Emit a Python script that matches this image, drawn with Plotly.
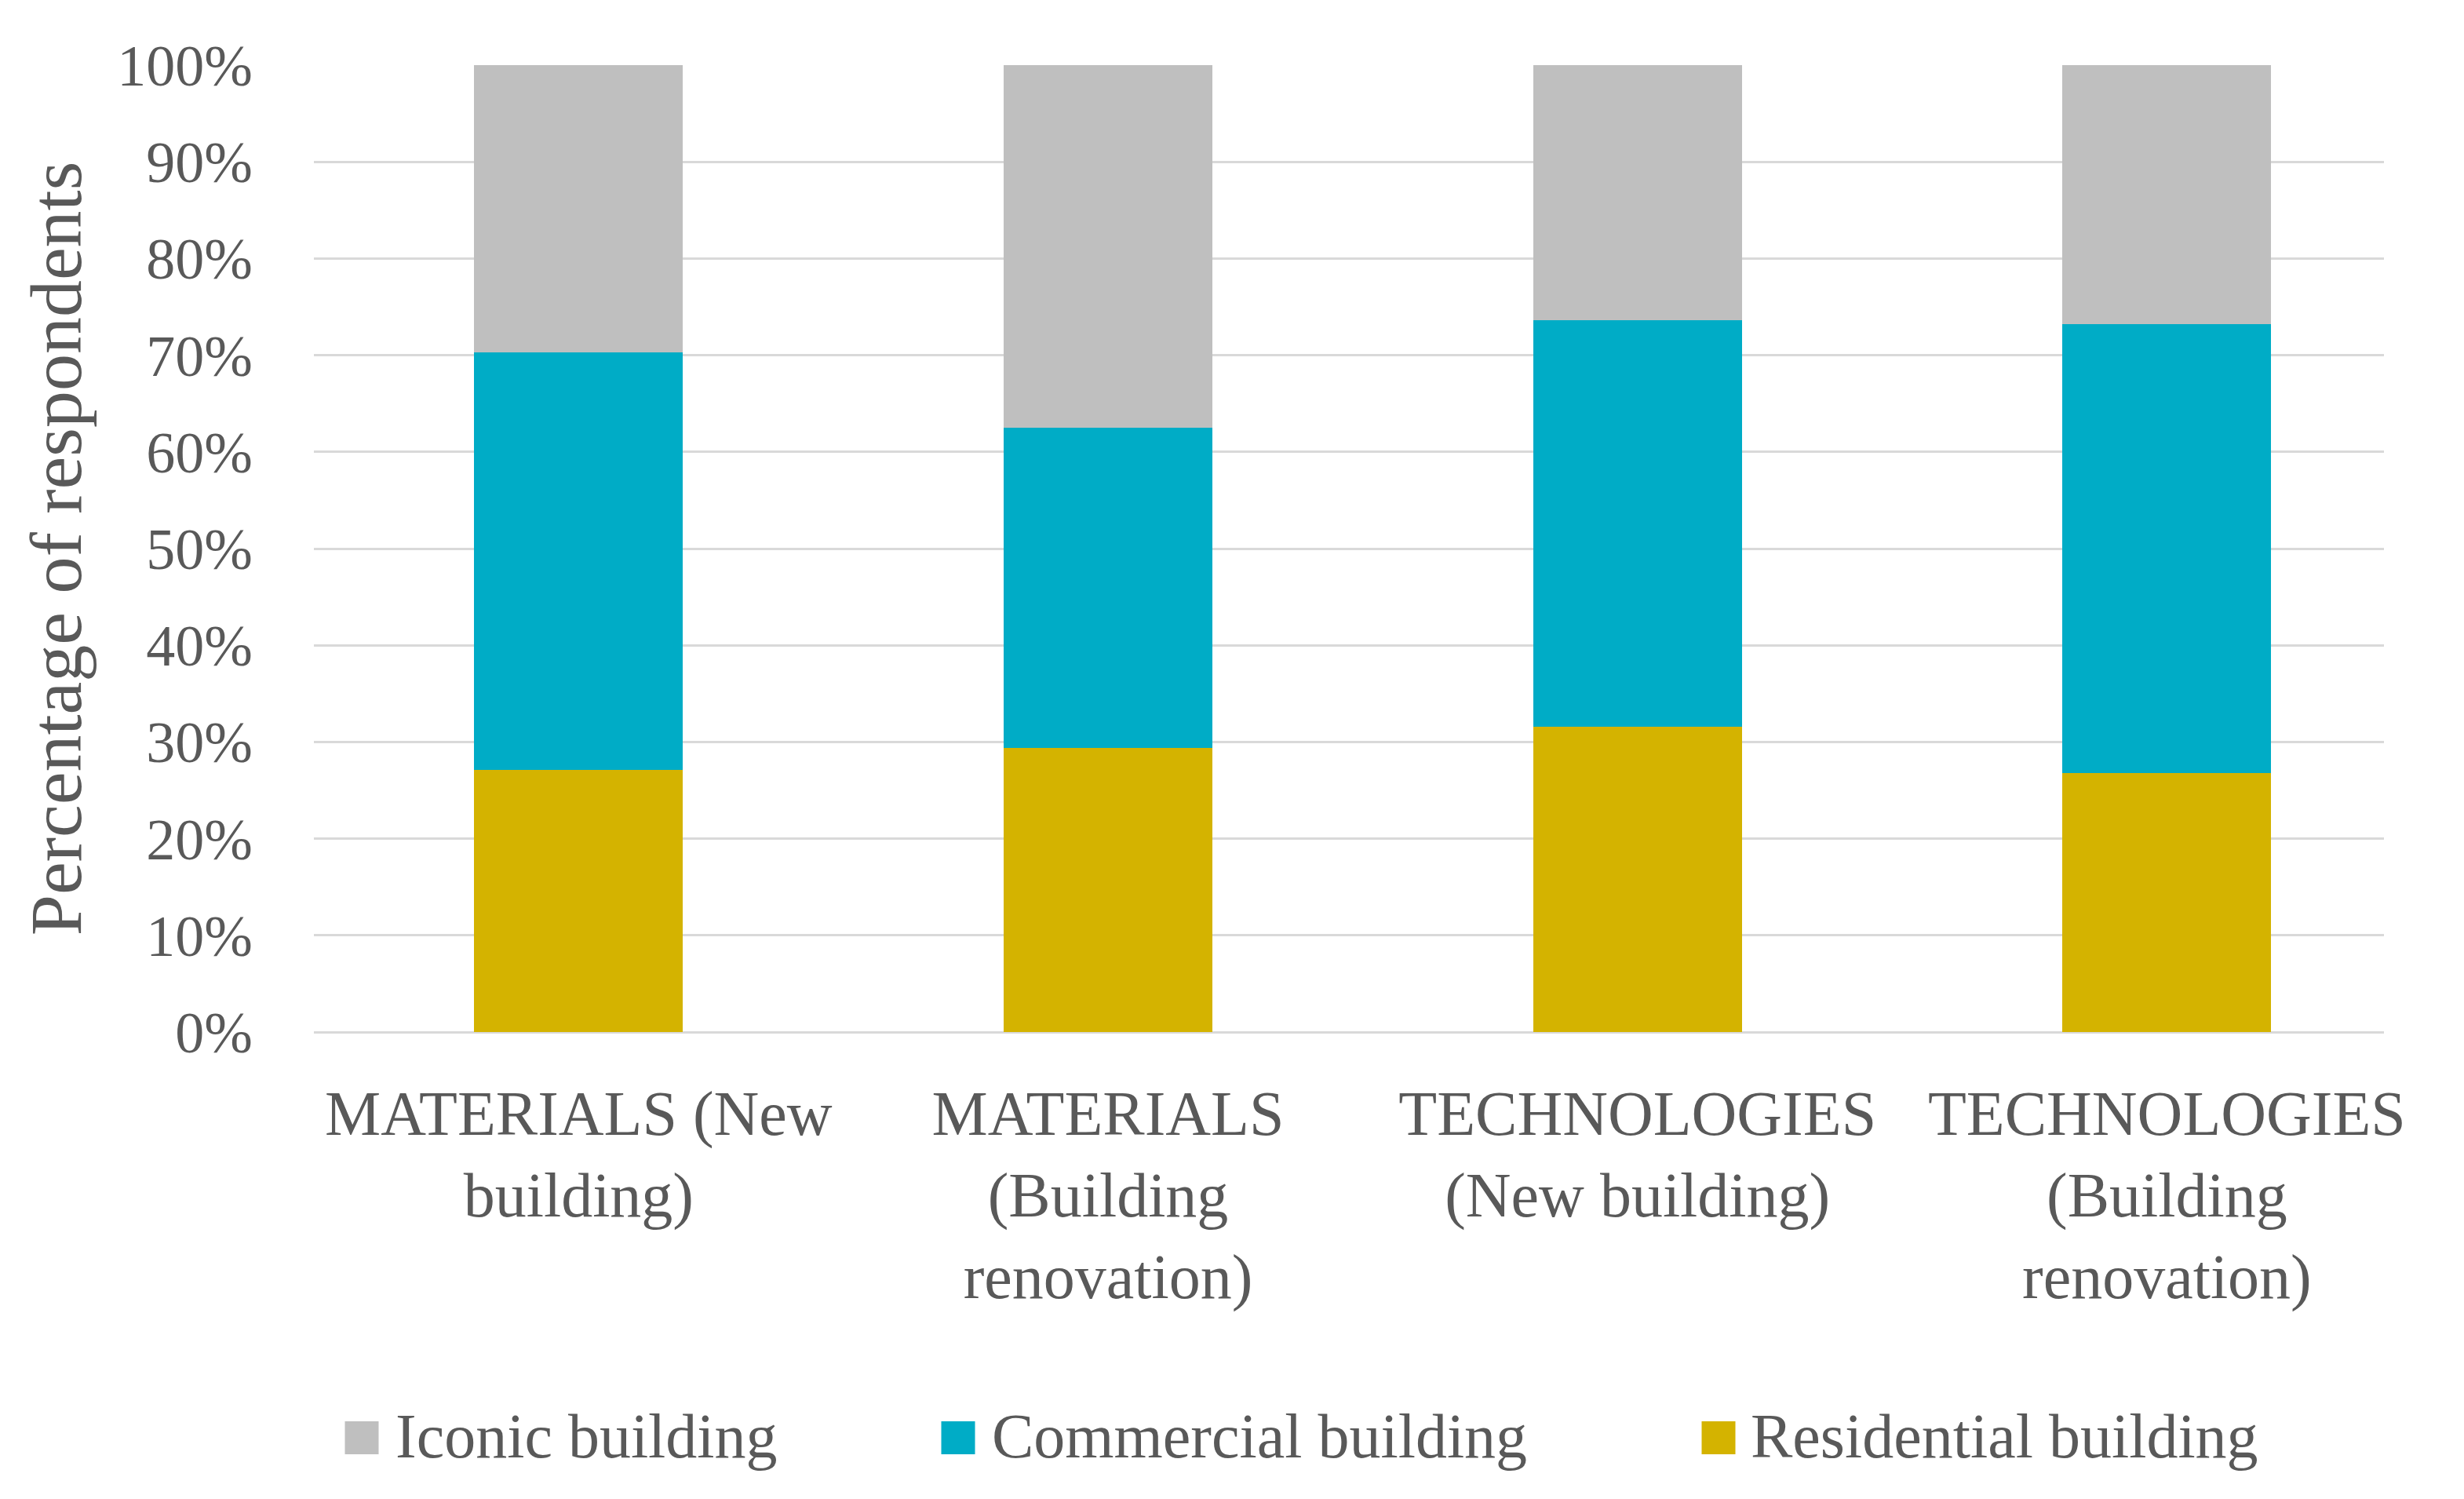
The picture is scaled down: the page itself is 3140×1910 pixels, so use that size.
import plotly.graph_objects as go

categories = ["MATERIALS (New<br>building)", "MATERIALS<br>(Building<br>renovation)",
              "TECHNOLOGIES<br>(New building)", "TECHNOLOGIES<br>(Building<br>renovation)"]
residential = [27.1, 29.4, 31.6, 26.8]
commercial = [43.2, 33.1, 42.0, 46.4]
iconic = [29.7, 37.5, 26.4, 26.8]
y_ticks = [0, 10, 20, 30, 40, 50, 60, 70, 80, 90, 100]
y_tick_labels = [f"{v}%" for v in y_ticks]

colors = {"Iconic building": "#BFBFBF", "Commercial building": "#00ACC6",
          "Residential building": "#D4B300"}

FONT = "Liberation Serif"
TXT = "#595959"

OFF = 8  # page body margin offset of the figure on screen
W, H = 3140, 1910
ml, mr, mt, mb = 400 - OFF, 102 + OFF, 83 - OFF, 595 + OFF
pw = W - ml - mr
ph = H - mt - mb

def px_x(x):
    return (x - OFF - ml) / pw

def px_y(y):
    return (H - mb - (y - OFF)) / ph

fig = go.Figure()
fig.add_trace(go.Bar(x=categories, y=residential, name="Residential building",
                     marker=dict(color=colors["Residential building"], line_width=0),
                     legend="legend3"))
fig.add_trace(go.Bar(x=categories, y=commercial, name="Commercial building",
                     marker=dict(color=colors["Commercial building"], line_width=0),
                     legend="legend2"))
fig.add_trace(go.Bar(x=categories, y=iconic, name="Iconic building",
                     marker=dict(color=colors["Iconic building"], line_width=0),
                     legend="legend"))

leg_y = px_y(1826)
leg_common = dict(orientation="h", yanchor="middle", y=leg_y, xanchor="left",
                  itemwidth=78,
                  font=dict(family=FONT, size=80, color=TXT),
                  bgcolor="rgba(0,0,0,0)", borderwidth=0)

# enlarged legend swatches behind the native legend symbols
legend_items = [("Iconic building", 461), ("Commercial building", 1221),
                ("Residential building", 2190)]
shapes = []
for name, cx in legend_items:
    shapes.append(dict(type="rect", xref="paper", yref="paper",
                       xsizemode="pixel", ysizemode="pixel",
                       xanchor=px_x(cx), yanchor=px_y(1832),
                       x0=-21.5, x1=21.5, y0=-21, y1=21,
                       fillcolor=colors[name], line_width=0, layer="below"))

fig.update_layout(
    width=W, height=H,
    margin=dict(l=ml, r=mr, t=mt, b=mb, autoexpand=False),
    barmode="stack", bargap=0.606,
    plot_bgcolor="white", paper_bgcolor="white",
    font=dict(family=FONT, color=TXT),
    showlegend=True,
    legend=dict(**leg_common, x=px_x(416)),
    legend2=dict(**leg_common, x=px_x(1176)),
    legend3=dict(**leg_common, x=px_x(2143)),
    shapes=shapes,
    xaxis=dict(tickfont=dict(family=FONT, size=80, color=TXT), showgrid=False,
               showline=False, ticks="", ticklabelstandoff=50,
               range=[-0.5, 3.41]),
    yaxis=dict(range=[0, 100], tickvals=y_ticks, ticktext=y_tick_labels,
               tickfont=dict(family=FONT, size=74, color=TXT),
               showgrid=True, gridcolor="#D9D9D9", gridwidth=3,
               zeroline=True, zerolinecolor="#D9D9D9", zerolinewidth=3,
               showline=False, ticks="", ticklabelstandoff=77,
               title=dict(text="Percentage of respondents",
                          font=dict(family=FONT, size=94, color=TXT), standoff=14)),
)

fig.write_html("out.html")
